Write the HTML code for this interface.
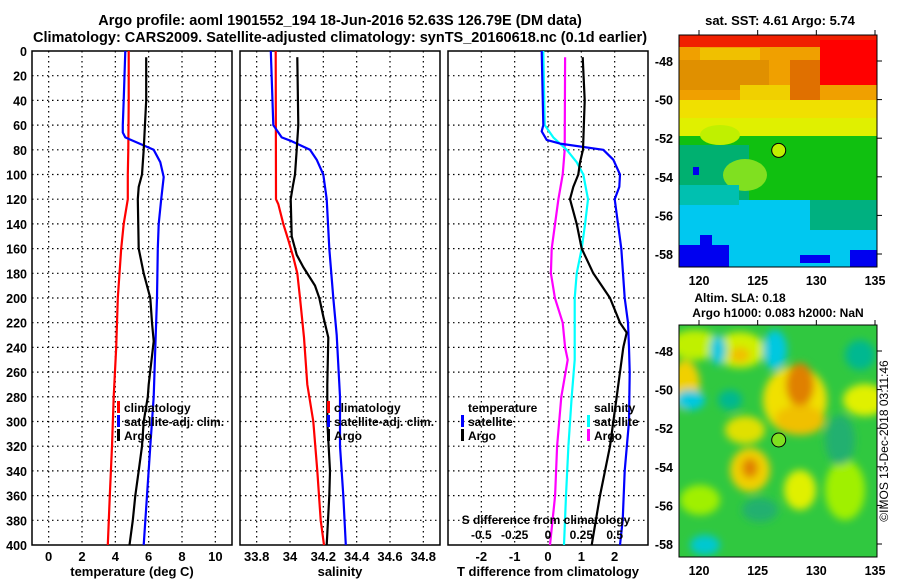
<!DOCTYPE html>
<html><head><meta charset="utf-8">
<style>
body{margin:0;background:#fff;}
svg text{font-family:"Liberation Sans",Arial,sans-serif;font-weight:bold;fill:#000;}
</style></head>
<body>
<svg id="chart" width="900" height="580" viewBox="0 0 900 580" xmlns="http://www.w3.org/2000/svg">
<defs>
<filter id="blur" x="-20%" y="-20%" width="140%" height="140%"><feGaussianBlur stdDeviation="4"/></filter>
<clipPath id="clip1"><rect x="679" y="35" width="198" height="232"/></clipPath>
<clipPath id="clip2"><rect x="679" y="325" width="198" height="232"/></clipPath>
</defs>
<text x="340" y="25" font-size="14.5" text-anchor="middle">Argo profile: aoml 1901552_194 18-Jun-2016 52.63S 126.79E (DM data)</text>
<text x="340" y="42" font-size="14.5" text-anchor="middle">Climatology: CARS2009. Satellite-adjusted climatology: synTS_20160618.nc (0.1d earlier)</text>
<g id="panels"></g>
<g id="maps">
  <g clip-path="url(#clip1)">
    <rect x="679" y="35" width="198" height="232" fill="#f0a000"/>
    <rect x="679" y="35" width="198" height="12" fill="#f02000"/>
    <rect x="820" y="40" width="57" height="45" fill="#ff0000"/>
    <rect x="790" y="60" width="30" height="40" fill="#e07000"/>
    <rect x="679" y="60" width="90" height="30" fill="#e09000"/>
    <rect x="700" y="48" width="60" height="12" fill="#f0c000"/>
    <rect x="740" y="85" width="50" height="15" fill="#f0d000"/>
    <rect x="679" y="100" width="198" height="40" fill="#f0e000"/>
    <rect x="679" y="118" width="198" height="18" fill="#e0f000"/>
    <rect x="679" y="136" width="198" height="80" fill="#10c010"/>
    <rect x="679" y="145" width="70" height="60" fill="#00b070"/>
    <ellipse cx="745" cy="175" rx="22" ry="16" fill="#80e020"/>
    <ellipse cx="720" cy="135" rx="20" ry="10" fill="#c0f000"/>
    <rect x="679" y="200" width="198" height="67" fill="#00c8f0"/>
    <rect x="679" y="185" width="60" height="20" fill="#00c0b0"/>
    <rect x="810" y="200" width="67" height="30" fill="#00b080"/>
    <rect x="679" y="245" width="50" height="22" fill="#0000f0"/>
    <rect x="700" y="235" width="12" height="12" fill="#0000f0"/>
    <rect x="850" y="250" width="27" height="17" fill="#0000f0"/>
    <rect x="693" y="167" width="6" height="8" fill="#0000f0"/>
    <rect x="800" y="255" width="30" height="8" fill="#0000f0"/>
    <circle cx="778.7" cy="150.4" r="7" fill="#c0f000" stroke="#000" stroke-width="1"/>
  </g>
  <rect x="679" y="35" width="198" height="232" fill="none" stroke="#000"/>
  <g clip-path="url(#clip2)">
    <rect x="679" y="325" width="198" height="232" fill="#30c840"/>
    <g filter="url(#blur)">
      <ellipse cx="695" cy="345" rx="25" ry="15" fill="#c0f000"/>
      <ellipse cx="740" cy="350" rx="25" ry="18" fill="#d0f000"/>
      <ellipse cx="740" cy="355" rx="10" ry="8" fill="#f0c000"/>
      <ellipse cx="685" cy="385" rx="15" ry="25" fill="#f0d000"/>
      <ellipse cx="718" cy="350" rx="8" ry="15" fill="#00c8e0"/>
      <ellipse cx="775" cy="350" rx="12" ry="20" fill="#00c8e0"/>
      <ellipse cx="795" cy="400" rx="32" ry="34" fill="#f0e000"/>
      <ellipse cx="800" cy="385" rx="14" ry="22" fill="#e08000"/>
      <ellipse cx="800" cy="420" rx="25" ry="15" fill="#f0c000"/>
      <ellipse cx="745" cy="430" rx="20" ry="14" fill="#e0e000"/>
      <ellipse cx="750" cy="470" rx="20" ry="22" fill="#f0d000"/>
      <ellipse cx="750" cy="468" rx="8" ry="10" fill="#e08000"/>
      <ellipse cx="800" cy="490" rx="16" ry="20" fill="#e0f000"/>
      <ellipse cx="865" cy="400" rx="22" ry="16" fill="#e0f000"/>
      <ellipse cx="845" cy="490" rx="20" ry="30" fill="#a0f000"/>
      <ellipse cx="690" cy="400" rx="15" ry="10" fill="#00c8e0"/>
      <ellipse cx="730" cy="400" rx="12" ry="10" fill="#00b890"/>
      <ellipse cx="705" cy="545" rx="15" ry="10" fill="#00c8d0"/>
      <ellipse cx="860" cy="355" rx="15" ry="15" fill="#00b890"/>
      <ellipse cx="700" cy="500" rx="20" ry="15" fill="#a0f000"/>
      <ellipse cx="760" cy="510" rx="18" ry="12" fill="#20b070"/>
      <ellipse cx="840" cy="440" rx="15" ry="25" fill="#20b070"/>
    </g>
    <circle cx="778.7" cy="440" r="7" fill="#80e020" stroke="#000" stroke-width="1"/>
  </g>
  <rect x="679" y="325" width="198" height="232" fill="none" stroke="#000"/>
  <text x="780" y="25" font-size="13" text-anchor="middle">sat. SST: 4.61 Argo: 5.74</text>
  <text x="740" y="302" font-size="12" text-anchor="middle">Altim. SLA: 0.18</text>
  <text x="778" y="317" font-size="12" text-anchor="middle">Argo h1000: 0.083 h2000: NaN</text>
  <text transform="translate(888,441) rotate(-90)" font-size="12" text-anchor="middle" style="font-weight:normal">©IMOS 13-Dec-2018 03:11:46</text>
  <g id="mapaxes"></g>
</g>
</svg>
<script>
// ---- data ----
var depthTemp = [0,20,40,60,66,70,80,90,102,120,140,160,200,240,280,320,360,400];
var tempSat   = [4.6,4.55,4.5,4.45,4.45,4.6,6.3,6.7,6.9,6.75,6.6,6.55,6.5,6.4,6.3,6.1,5.9,5.7];
var depthClimT = [0,40,80,100,120,140,160,200,240,280,320,360,400];
var tempClim  = [4.8,4.8,4.78,4.75,4.75,4.5,4.35,4.15,4.05,3.9,3.8,3.67,3.55];
var depthArgo = [5,40,80,100,110,120,160,180,200,220,235,270,280,300,320,340,360,380,400];
var tempArgo  = [5.85,5.85,5.7,5.6,5.4,5.35,5.4,5.7,6.1,6.2,6.3,6.0,5.95,5.7,5.6,5.4,5.2,5.05,4.85];

var depthSal  = [0,60,70,73,80,88,100,120,160,200,230,280,300,320,360,400];
var salSat    = [33.885,33.9,33.95,34.01,34.12,34.16,34.2,34.22,34.236,34.26,34.28,34.3,34.3,34.3,34.32,34.335];
var depthClimS = [0,120,124,140,153,167,180,200,232,270,300,340,380,400];
var salClim   = [33.914,33.916,33.93,33.96,33.99,34.02,34.044,34.06,34.084,34.104,34.14,34.164,34.184,34.204];
var depthArgoS = [5,60,80,100,110,120,150,165,175,190,200,215,232,270,300,340,360,400];
var salArgo   = [34.044,34.05,34.04,34.03,34.016,34.004,34.01,34.04,34.08,34.15,34.176,34.2,34.23,34.224,34.224,34.24,34.236,34.22];

var depthDT = [0,60,65,72,75,80,88,100,110,120,140,160,200,220,240,260,300,340,380,400];
var dTSat   = [-0.19,-0.14,-0.19,-0.04,0.36,1.66,1.96,2.16,2.14,2.0,2.1,2.2,2.3,2.4,2.43,2.45,2.43,2.3,2.24,2.16];
var depthDTA = [5,40,80,90,100,110,120,140,160,180,200,220,228,240,280,320,360,400];
var dTArgo  = [1.04,1.1,1.05,0.96,0.91,0.76,0.66,0.86,1.01,1.36,1.86,2.16,2.36,2.26,2.06,1.86,1.56,1.31];
var depthDS = [5,80,100,120,160,180,200,220,240,250,280,320,360,400];
var dSArgo  = [0.128,0.125,0.11,0.078,0.028,0.022,0.052,0.11,0.128,0.148,0.1,0.068,0.053,0.015];
var depthDSS = [0,60,70,80,90,100,120,140,160,180,200,230,250,280,320,360,400];
var dSSat   = [-0.035,-0.025,0.04,0.14,0.215,0.265,0.30,0.278,0.253,0.215,0.2,0.2,0.2,0.178,0.153,0.135,0.12];

var depthTicks = [0,20,40,60,80,100,120,140,160,180,200,220,240,260,280,300,320,340,360,380,400];
var tempTicks = [0,2,4,6,8,10];
var salTicks = [33.8,34,34.2,34.4,34.6,34.8];
var salTickLabels = ["33.8","34","34.2","34.4","34.6","34.8"];
var dTTicks = [-2,-1,0,1,2];
var dSTicks = [-0.5,-0.25,0,0.25,0.5];
var dSTickLabels = ["-0.5","-0.25","0","0.25","0.5"];
var latTicks = [-48,-50,-52,-54,-56,-58];
var lonTicks = [120,125,130,135];

// ---- axes ----
var NS = "http://www.w3.org/2000/svg";
var Y0 = 51, Y1 = 545;
function yD(d){ return Y0 + (d/400)*(Y1-Y0); }
function lin(d0,d1,r0,r1){ return function(v){ return r0 + (v-d0)/(d1-d0)*(r1-r0); }; }
var xT  = lin(-1,11,32,232);
var xS  = lin(33.7,34.9,240,440);
var xDT = lin(-3,3,448,648);
var xDS = lin(-0.75,0.75,448,648);
var mapX = lin(120,135,699,875);
var mapY1 = lin(-48,-58,61,254);
var mapY2 = lin(-48,-58,351,544);

var panels = document.getElementById('panels');
function mk(tag, attrs, parent){
  var e = document.createElementNS(NS, tag);
  for (var k in attrs) e.setAttribute(k, attrs[k]);
  (parent||panels).appendChild(e);
  return e;
}
function txt(s, x, y, size, anchor, parent){
  var t = mk('text', {x:x, y:y, 'font-size':size, 'text-anchor':anchor||'middle'}, parent);
  t.textContent = s;
  return t;
}
function frame(x0, x1, name, xs, ticks, labels, xlabel){
  var g = mk('g', {});
  
  
  depthTicks.forEach(function(d){
    if (d===0||d===400) return;
    var l = mk('line', {x1:x0, x2:x1, y1:yD(d), y2:yD(d), stroke:'#000', 'stroke-width':1.2, 'stroke-dasharray':'1.5,3.5'}, g);
    
    
  });
  ticks.forEach(function(v,i){
    var x = xs(v);
    var l = mk('line', {x1:x, x2:x, y1:Y0, y2:Y1, stroke:'#000', 'stroke-width':1.2, 'stroke-dasharray':'1.5,3.5'}, g);
    
    
    var t = txt(labels[i], x, Y1+16, 13, 'middle', g);
    
    
  });
  var r = mk('rect', {x:x0, y:Y0, width:x1-x0, height:Y1-Y0, fill:'none', stroke:'#000', 'stroke-width':1.5}, g);
  
  
  var xl = txt(xlabel, (x0+x1)/2, Y1+31, 13, 'middle', g);
  
  
  return g;
}
function series(xs, vals, depths, color, w, name, g){
  var pts = vals.map(function(v,i){ return xs(v).toFixed(1)+','+yD(depths[i]).toFixed(1); }).join(' ');
  var p = mk('polyline', {points:pts, fill:'none', stroke:color, 'stroke-width':w, 'stroke-linejoin':'round'}, g);
  
  
}
function legend(x, y, color, label, g){
  var b = mk('rect', {x:x, y:y-11, width:3, height:12, fill:color}, g);
  
  
  var t = txt(label, x+7, y, 12, 'start', g);
  
  
}

// panel 1
var g1 = frame(32, 232, 'temperature-panel', xT, tempTicks, tempTicks.map(String), 'temperature (deg C)');
depthTicks.forEach(function(d){
  var t = txt(String(d), 27, yD(d)+5, 12.5, 'end', g1);
  
  
});
series(xT, tempClim, depthClimT, '#ff0000', 2.2, 'temp-climatology-line', g1);
series(xT, tempSat, depthTemp, '#0000ff', 2.2, 'temp-satellite-line', g1);
series(xT, tempArgo, depthArgo, '#000000', 2.2, 'temp-argo-line', g1);
legend(117, 412, '#ff0000', 'climatology', g1);
legend(117, 426, '#0000ff', 'satellite-adj. clim.', g1);
legend(117, 440, '#000000', 'Argo', g1);

// panel 2
var g2 = frame(240, 440, 'salinity-panel', xS, salTicks, salTickLabels, 'salinity');
series(xS, salClim, depthClimS, '#ff0000', 2.2, 'sal-climatology-line', g2);
series(xS, salSat, depthSal, '#0000ff', 2.2, 'sal-satellite-line', g2);
series(xS, salArgo, depthArgoS, '#000000', 2.2, 'sal-argo-line', g2);
legend(327, 412, '#ff0000', 'climatology', g2);
legend(327, 426, '#0000ff', 'satellite-adj. clim.', g2);
legend(327, 440, '#000000', 'Argo', g2);

// panel 3
var g3 = frame(448, 648, 'difference-panel', xDT, dTTicks, dTTicks.map(String), 'T difference from climatology');
series(xDS, dSArgo, depthDS, '#ff00ff', 2.2, 'sal-diff-argo-line', g3);
series(xDS, dSSat, depthDSS, '#00ffff', 2.2, 'sal-diff-satellite-line', g3);
series(xDT, dTSat, depthDT, '#0000ff', 2.2, 'temp-diff-satellite-line', g3);
series(xDT, dTArgo, depthDTA, '#000000', 2.2, 'temp-diff-argo-line', g3);
var tl = txt('temperature', 468, 412, 12, 'start', g3);


legend(461, 426, '#0000ff', 'satellite', g3);
legend(461, 440, '#000000', 'Argo', g3);
var sl = txt('salinity', 594, 412, 12, 'start', g3);


legend(587, 426, '#00ffff', 'satellite', g3);
legend(587, 440, '#ff00ff', 'Argo', g3);
var st = txt('S difference from climatology', 546, 524, 12, 'middle', g3);


dSTicks.forEach(function(v,i){
  var t = txt(dSTickLabels[i], xDS(v), 539, 12, 'middle', g3);
  
  
});

// map axes
var ma = document.getElementById('mapaxes');
[[mapY1, 35, 267], [mapY2, 325, 557]].forEach(function(m){
  latTicks.forEach(function(v){
    var y = m[0](v);
    var t = txt(String(v), 673, y+5, 12.5, 'end', ma);
    
    
    mk('line', {x1:877, x2:882, y1:y, y2:y, stroke:'#000'}, ma);
  });
  lonTicks.forEach(function(v){
    var x = mapX(v);
    var t = txt(String(v), x, m[2]+18, 12.5, 'middle', ma);
    
    
    mk('line', {x1:x, x2:x, y1:m[1]-5, y2:m[1], stroke:'#000'}, ma);
  });
});
</script>
</body></html>
